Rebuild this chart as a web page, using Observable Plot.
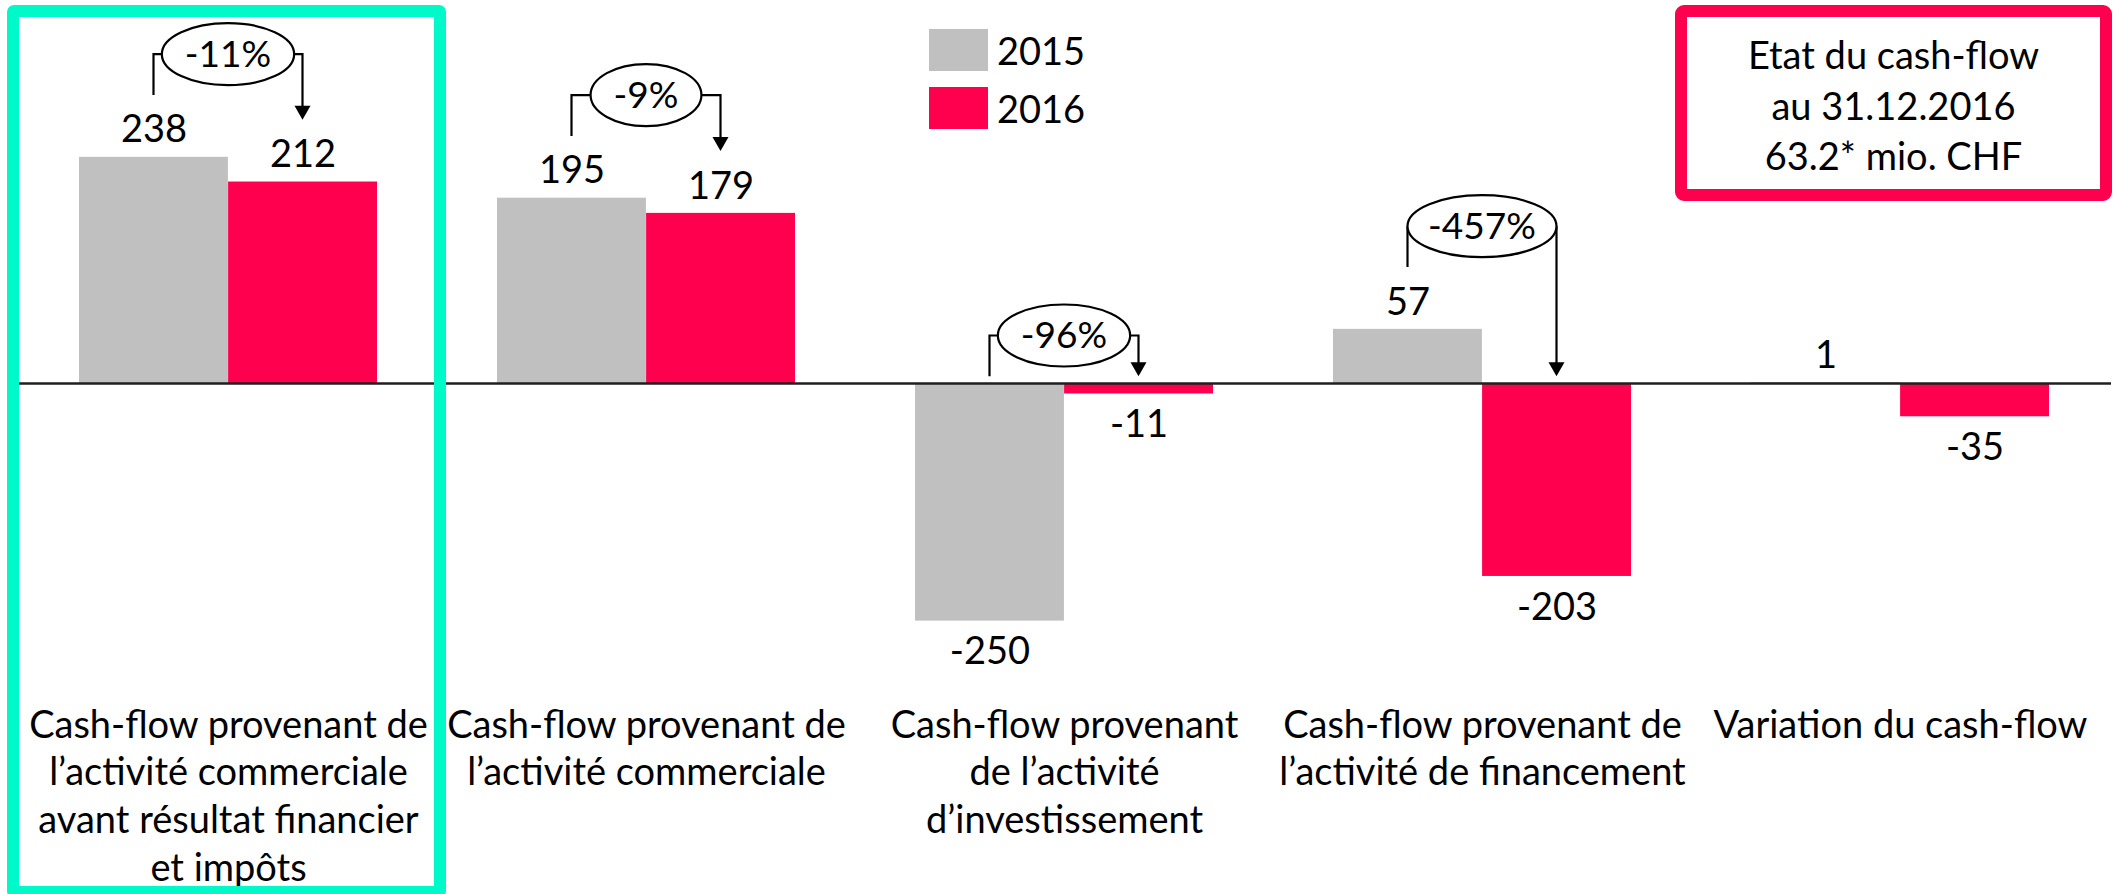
<!DOCTYPE html>
<html>
<head>
<meta charset="utf-8">
<script src="https://cdn.jsdelivr.net/npm/d3@7"></script>
<script src="https://cdn.jsdelivr.net/npm/@observablehq/plot@0.6"></script>
<style>
  html, body { margin: 0; padding: 0; background: #fff; }
  #wrap { position: relative; width: 2120px; height: 894px; font-family: Lato, "Noto Sans", sans-serif; color: #000; overflow: hidden; }
  #wrap svg { position: absolute; left: 0; top: 0; }
  .highlight { position: absolute; left: 7px; top: 5px; width: 439px; height: 893px; box-sizing: border-box; border: 12px solid #00f9c8; border-radius: 7px; pointer-events: none; }
  .info { position: absolute; left: 1675px; top: 5px; width: 437px; height: 196px; box-sizing: border-box; border: 12px solid #ff004f; border-radius: 9px; text-align: center; font-size: 38px; line-height: 50.5px; padding-top: 12px; }
  .legend { position: absolute; left: 929px; top: 29px; font-size: 38px; }
  .legend .row { display: flex; align-items: center; height: 42px; margin-bottom: 16px; }
  .legend .sw { width: 59px; height: 42px; margin-right: 9px; }
</style>
</head>
<body>
<div id="wrap"></div>
<script>
// ---- data ----
const categories = ["cfOpBefore", "cfOp", "cfInv", "cfFin", "cfVar"];
const categoryLabels = [
  "Cash-flow provenant de\nl’activité commerciale\navant résultat financier\net impôts",
  "Cash-flow provenant de\nl’activité commerciale",
  "Cash-flow provenant\nde l’activité\nd’investissement",
  "Cash-flow provenant de\nl’activité de financement",
  "Variation du cash-flow"
];
const years = ["2015", "2016"];
const values2015 = [238, 195, -250, 57, 1];
const values2016 = [212, 179, -11, -203, -35];
const changeLabels = ["-11%", "-9%", "-96%", "-457%", null];
const infoLines = ["Etat du cash-flow", "au 31.12.2016", "63.2* mio. CHF"];
const seriesColors = ["#c0c0c0", "#ff004f"];

// ---- table ----
const rows = categories.flatMap((c, i) => [
  {cat: c, year: years[0], value: values2015[i]},
  {cat: c, year: years[1], value: values2016[i]}
]);

const W = 2120, H = 894;
const marginLeft = 17, marginRight = 9;
const paddingInner = 0.288, paddingOuter = 0.144;
const bandScale = d3.scaleBand(categories, [marginLeft, W - marginRight]).paddingInner(paddingInner).paddingOuter(paddingOuter);
const half = bandScale.bandwidth() / 2;
const quarter = half / 2;
const FONT = "Lato, 'Noto Sans', sans-serif";
const labelSize = 38;

// annotation mark (brackets with ellipse and arrow), drawn through the plot's scales
function changeAnnotations(index, scales) {
  const {x, y} = scales;
  const bw = x.bandwidth();
  const ctx = document.createElement("canvas").getContext("2d");
  ctx.font = `37px ${FONT}`;
  const g = d3.create("svg:g");
  categories.forEach((c, i) => {
    const label = changeLabels[i];
    if (!label) return;
    const v0 = values2015[i], v1 = values2016[i];
    const yStart = v0 > 0 ? v0 + 65 : 7;
    const yEnd = v1 > 0 ? v1 + 65 : 7;
    const yLine = Math.max(yStart, yEnd) + 43;
    const xl = x(c) + bw / 4, xr = x(c) + 3 * bw / 4, xc = x(c) + bw / 2;
    const rx = Math.min(bw / 4, ctx.measureText(label).width / 2 + 23), ry = 31;
    const pyS = y(yStart), pyE = y(yEnd), pyL = y(yLine);
    g.append("path")
      .attr("d", `M${xl},${pyS}V${pyL}H${xc - rx}M${xc + rx},${pyL}H${xr}V${pyE - 12}`)
      .attr("fill", "none").attr("stroke", "#000").attr("stroke-width", 2.2);
    g.append("path")
      .attr("d", `M${xr - 8},${pyE - 14}L${xr + 8},${pyE - 14}L${xr},${pyE}Z`)
      .attr("fill", "#000");
    g.append("ellipse")
      .attr("cx", xc).attr("cy", pyL).attr("rx", rx).attr("ry", ry)
      .attr("fill", "#fff").attr("stroke", "#000").attr("stroke-width", 2.2);
    g.append("text")
      .attr("x", xc).attr("y", pyL).attr("dy", "0.35em")
      .attr("text-anchor", "middle").attr("font-size", 37).attr("font-family", FONT)
      .attr("fill", "#000").text(label);
  });
  return g.node();
}

const chart = Plot.plot({
  width: W,
  height: H,
  marginTop: 0,
  marginBottom: 204,
  marginLeft,
  marginRight,
  style: {fontFamily: FONT, background: "transparent", color: "#000", overflow: "visible"},
  x: {domain: categories, paddingInner, paddingOuter},
  y: {domain: [-323, 403], axis: null},
  color: {domain: years, range: seriesColors},
  marks: [
    Plot.barY(rows, {filter: d => d.year === years[0], x: "cat", y: "value", fill: "year", insetRight: half}),
    Plot.barY(rows, {filter: d => d.year === years[1], x: "cat", y: "value", fill: "year", insetLeft: half}),
    Plot.ruleY([0], {stroke: "#1f1f1f", strokeWidth: 2.6}),
    Plot.text(rows, {filter: d => d.year === years[0] && d.value >= 0, x: "cat", y: "value", text: d => String(d.value), dx: -quarter, dy: -27, fontSize: labelSize, fill: "#000"}),
    Plot.text(rows, {filter: d => d.year === years[0] && d.value < 0, x: "cat", y: "value", text: d => String(d.value), dx: -quarter, dy: 31, fontSize: labelSize, fill: "#000"}),
    Plot.text(rows, {filter: d => d.year === years[1] && d.value >= 0, x: "cat", y: "value", text: d => String(d.value), dx: quarter, dy: -27, fontSize: labelSize, fill: "#000"}),
    Plot.text(rows, {filter: d => d.year === years[1] && d.value < 0, x: "cat", y: "value", text: d => String(d.value), dx: quarter, dy: 31, fontSize: labelSize, fill: "#000"}),
    Plot.axisX({
      tickSize: 0,
      tickPadding: 13,
      tickFormat: d => categoryLabels[categories.indexOf(d)],
      fontSize: labelSize,
      lineHeight: 1.26,
      label: null,
      fill: "#000"
    }),
    changeAnnotations
  ]
});

const wrap = document.getElementById("wrap");
wrap.appendChild(chart);

// legend (inside chart area)
const legend = document.createElement("div");
legend.className = "legend";
years.forEach((yr, i) => {
  const row = document.createElement("div");
  row.className = "row";
  const sw = document.createElement("div");
  sw.className = "sw";
  sw.style.background = seriesColors[i];
  const t = document.createElement("span");
  t.textContent = yr;
  row.appendChild(sw); row.appendChild(t);
  legend.appendChild(row);
});
wrap.appendChild(legend);

// info box
const info = document.createElement("div");
info.className = "info";
infoLines.forEach(l => { const d = document.createElement("div"); d.textContent = l; info.appendChild(d); });
wrap.appendChild(info);

// highlight frame around first category
const hl = document.createElement("div");
hl.className = "highlight";
wrap.appendChild(hl);
</script>
</body>
</html>
